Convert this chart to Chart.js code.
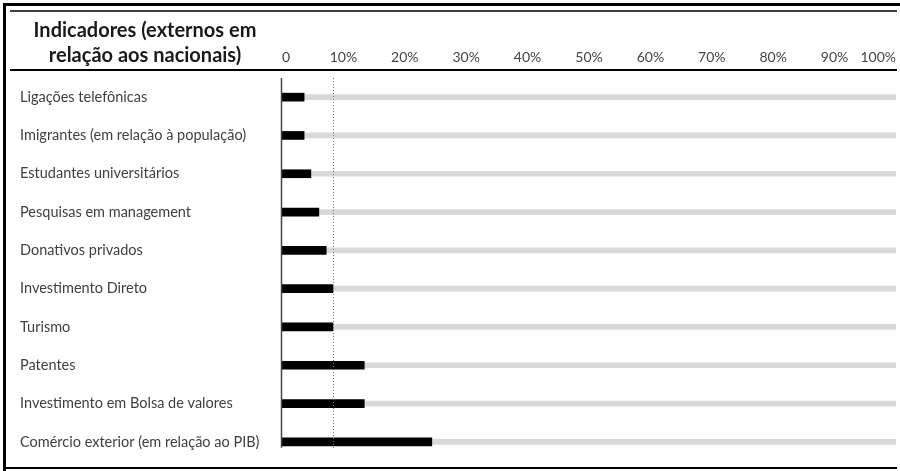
<!DOCTYPE html>
<html>
<head>
<meta charset="utf-8">
<script src="https://cdn.jsdelivr.net/npm/chart.js@4"></script>
<style>
  html, body { margin: 0; padding: 0; background: #fff; }
  #wrap { width: 900px; height: 471px; position: relative; }
</style>
</head>
<body>
<div id="wrap"><canvas id="chart"></canvas></div>
<script>
// dados
const categorias = [
  "Ligações telefônicas",
  "Imigrantes (em relação à população)",
  "Estudantes universitários",
  "Pesquisas em management",
  "Donativos privados",
  "Investimento Direto",
  "Turismo",
  "Patentes",
  "Investimento em Bolsa de valores",
  "Comércio exterior (em relação ao PIB)"
];
const valores = [3.6, 3.6, 4.7, 6.0, 7.2, 8.3, 8.3, 13.4, 13.4, 24.4];
const trilho = [100, 100, 100, 100, 100, 100, 100, 100, 100, 100];
const linhaRef = 8.3;
const ticks = [0, 10, 20, 30, 40, 50, 60, 70, 80, 90, 100];
const tituloLinhas = ["Indicadores (externos em", "relação aos nacionais)"];

const FONTE = "Lato, 'Open Sans', sans-serif";

// moldura, título e linha pontilhada
const decoracao = {
  id: "decoracao",
  beforeDraw(chart) {
    const { ctx } = chart;
    ctx.save();
    ctx.fillStyle = "#fff";
    ctx.fillRect(0, 0, chart.width, chart.height);
    ctx.restore();
  },
  afterDatasetsDraw(chart) {
    const { ctx, chartArea, scales } = chart;
    const x = scales.x, y = scales.y;
    ctx.save();
    // linha pontilhada
    const xr = Math.round(x.getPixelForValue(linhaRef)) + 0.5;
    const yFim = y.getPixelForValue(categorias.length - 1) + 6;
    ctx.strokeStyle = "#777";
    ctx.lineWidth = 1;
    ctx.setLineDash([1, 2]);
    ctx.beginPath();
    ctx.moveTo(xr, chartArea.top);
    ctx.lineTo(xr, yFim);
    ctx.stroke();
    ctx.setLineDash([]);
    // eixo vertical
    const x0 = Math.round(x.getPixelForValue(0)) - 0.5;
    ctx.strokeStyle = "#444";
    ctx.lineWidth = 1.5;
    ctx.beginPath();
    ctx.moveTo(x0, chartArea.top);
    ctx.lineTo(x0, yFim);
    ctx.stroke();
    ctx.restore();
  },
  afterDraw(chart) {
    const { ctx } = chart;
    ctx.save();
    ctx.strokeStyle = "#000";
    // moldura externa
    ctx.lineWidth = 3;
    ctx.beginPath();
    ctx.moveTo(4.5, 471);
    ctx.lineTo(4.5, 4.5);
    ctx.lineTo(900, 4.5);
    ctx.stroke();
    ctx.lineWidth = 2;
    ctx.beginPath();
    ctx.moveTo(3, 468);
    ctx.lineTo(897, 468);
    ctx.stroke();
    // linhas do cabeçalho
    ctx.lineWidth = 1.5;
    ctx.beginPath();
    ctx.moveTo(10, 11);
    ctx.lineTo(897, 11);
    ctx.stroke();
    ctx.lineWidth = 2;
    ctx.beginPath();
    ctx.moveTo(10, 70);
    ctx.lineTo(897, 70);
    ctx.stroke();
    // título
    ctx.fillStyle = "#1a1a1a";
    ctx.font = "bold 20px " + FONTE;
    ctx.textAlign = "center";
    ctx.textBaseline = "alphabetic";
    ctx.fillText(tituloLinhas[0], 145, 37);
    ctx.fillText(tituloLinhas[1], 145, 62);
    ctx.restore();
  }
};

new Chart(document.getElementById("chart"), {
  type: "bar",
  data: {
    labels: categorias,
    datasets: [
      {
        data: valores,
        backgroundColor: "#000",
        barThickness: 8,
        grouped: false,
        order: 0
      },
      {
        data: trilho,
        backgroundColor: "#d9d9d9",
        barThickness: 5,
        grouped: false,
        order: 1
      }
    ]
  },
  options: {
    indexAxis: "y",
    responsive: true,
    maintainAspectRatio: false,
    animation: false,
    layout: { padding: { left: 20, right: 4, top: 0, bottom: 10 } },
    scales: {
      x: {
        position: "top",
        min: 0,
        max: 100,
        afterBuildTicks: s => { s.ticks = ticks.map(v => ({ value: v })); },
        afterFit: s => { s.height = 78; s.paddingLeft = 0; s.paddingRight = 0; },
        grid: { display: false },
        border: { display: false },
        ticks: {
          align: "inner",
          padding: 4,
          color: "#444",
          font: { family: FONTE, size: 14 },
          callback: v => v === 0 ? "0" : v + "%"
        }
      },
      y: {
        afterFit: s => { s.width = 262; },
        grid: { display: false },
        border: { display: false },
        ticks: {
          crossAlign: "far",
          padding: 0,
          color: "#404040",
          font: { family: FONTE, size: 14.5 }
        }
      }
    },
    plugins: {
      legend: { display: false },
      tooltip: { enabled: false }
    }
  },
  plugins: [decoracao]
});
</script>
</body>
</html>
